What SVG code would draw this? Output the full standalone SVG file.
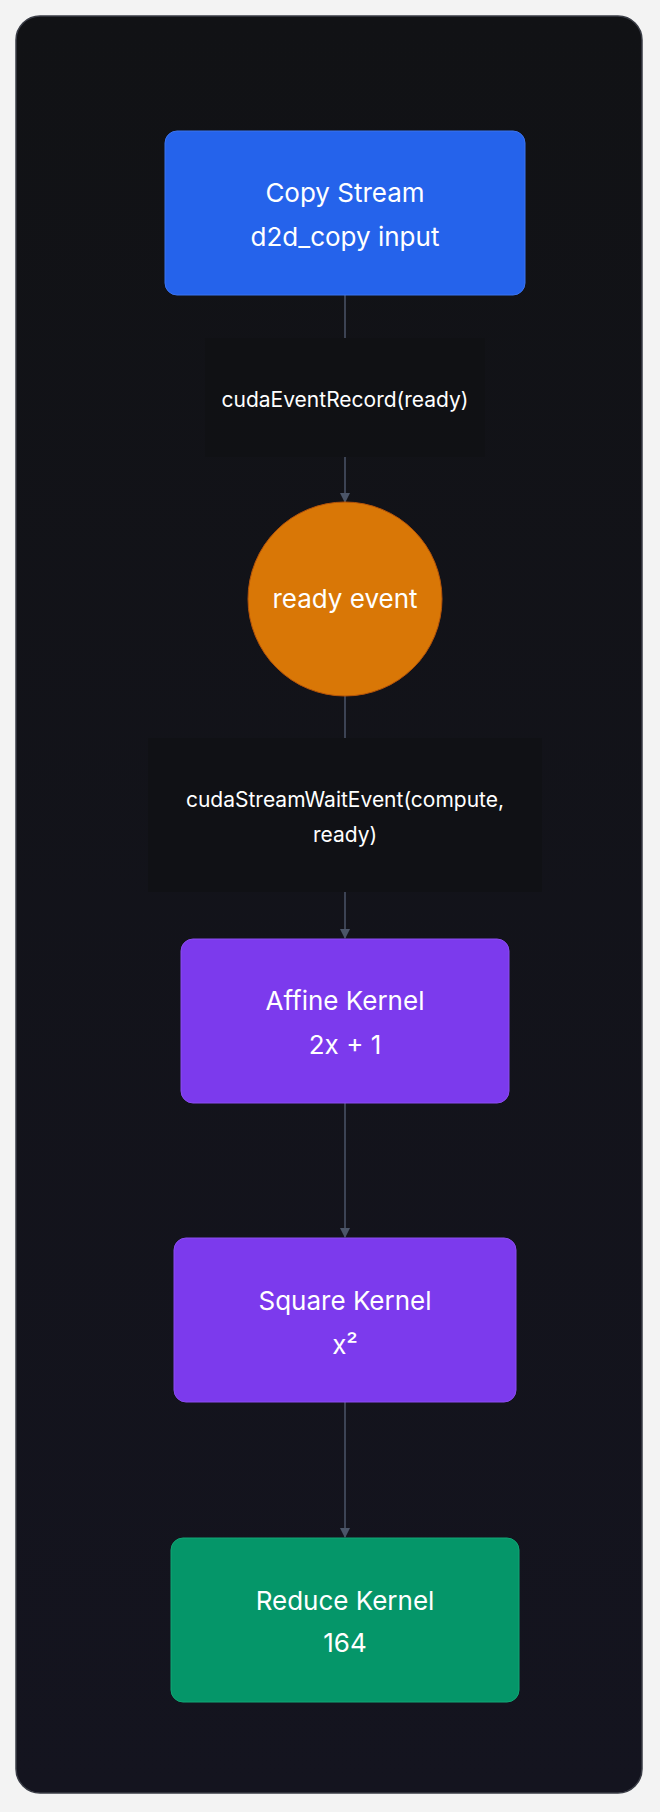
<svg xmlns="http://www.w3.org/2000/svg" width="660" height="1812" viewBox="0 0 660 1812">
<defs>
<linearGradient id="bg" x1="0" y1="0" x2="0" y2="1"><stop offset="0" stop-color="#111215"/><stop offset="1" stop-color="#14141f"/></linearGradient>
<marker id="ah" viewBox="0 0 10 10" refX="9" refY="5" markerWidth="10" markerHeight="10" markerUnits="userSpaceOnUse" orient="auto"><path d="M0,0 L10,5 L0,10 z" fill="#4b5568"/></marker>
</defs>
<style>
text{font-family:Inter,"Liberation Sans",sans-serif;fill:#fff;text-anchor:middle}
.n{font-size:26px}
.l{font-size:21px}
.e{stroke:#4b5568;stroke-width:1.5;fill:none}
.lb{fill:#101114;opacity:0.7}
</style>
<rect width="660" height="1812" fill="#f3f3f3"/>
<rect x="16" y="16" width="626" height="1777" rx="24" fill="url(#bg)" stroke="#3a3d46" stroke-width="1.5"/>
<g id="connectors">
<line class="e" x1="345" y1="295" x2="345" y2="338"/>
<line class="e" x1="345" y1="457" x2="345" y2="502" marker-end="url(#ah)"/>
<line class="e" x1="345" y1="696" x2="345" y2="738"/>
<line class="e" x1="345" y1="892" x2="345" y2="938" marker-end="url(#ah)"/>
<line class="e" x1="345" y1="1103" x2="345" y2="1237" marker-end="url(#ah)"/>
<line class="e" x1="345" y1="1402" x2="345" y2="1537" marker-end="url(#ah)"/>
<rect class="lb" x="205" y="338" width="280" height="119"/>
<text class="l" x="345" y="407">cudaEventRecord(ready)</text>
<rect class="lb" x="148" y="738" width="394" height="154"/>
<text class="l" x="345" y="807">cudaStreamWaitEvent(compute,</text>
<text class="l" x="345" y="842">ready)</text>
</g>
<g id="copy"><rect x="165" y="131" width="360" height="164" rx="12" fill="#2563eb" stroke="#3b74f0"/>
<text class="n" x="345" y="202">Copy Stream</text><text class="n" x="345" y="246">d2d_copy input</text></g>
<g id="ready"><circle cx="345" cy="599" r="97" fill="#d97706" stroke="#b45309"/>
<text class="n" x="345" y="608">ready event</text></g>
<g id="affine"><rect x="181" y="939" width="328" height="164" rx="12" fill="#7c3aed" stroke="#8b4cf0"/>
<text class="n" x="345" y="1010">Affine Kernel</text><text class="n" x="345" y="1054">2x + 1</text></g>
<g id="square"><rect x="174" y="1238" width="342" height="164" rx="12" fill="#7c3aed" stroke="#8b4cf0"/>
<text class="n" x="345" y="1310">Square Kernel</text><text class="n" x="345" y="1354">x²</text></g>
<g id="reduce"><rect x="171" y="1538" width="348" height="164" rx="12" fill="#059669" stroke="#10a776"/>
<text class="n" x="345" y="1610">Reduce Kernel</text><text class="n" x="345" y="1652">164</text></g>
</svg>
